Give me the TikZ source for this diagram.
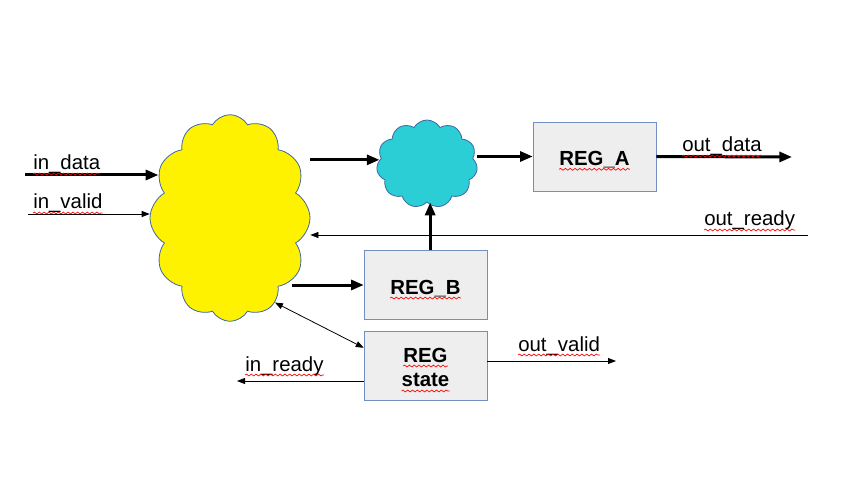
\documentclass[tikz,border=0pt]{standalone}
\usepackage{fontspec}
\setmainfont{Liberation Sans}
\usetikzlibrary{shapes.symbols,arrows.meta,decorations.pathmorphing}
\definecolor{cloudline}{RGB}{60,105,165}
\definecolor{boxline}{RGB}{114,143,196}
\definecolor{boxfill}{RGB}{238,238,238}
\definecolor{aqua}{RGB}{43,206,212}
\newcommand{\sig}{\fontsize{15.3}{18.75}\selectfont}
\tikzset{
  reg/.style={draw=boxline,fill=boxfill,minimum width=92.25pt,minimum height=51.75pt,inner sep=0pt},
  blob/.style={cloud,draw=cloudline,line width=0.6pt,cloud puffs=12,cloud puff arc=120,inner sep=0pt},
  bus/.style={line width=2.25pt,-{Triangle[length=9.5pt,width=7.5pt]}},
  wire/.style={line width=0.6pt,-{Triangle[length=6pt,width=4.5pt]}},
  dwire/.style={line width=0.6pt,{Triangle[length=6pt,width=4.5pt]}-{Triangle[length=6pt,width=4.5pt]}},
  squig/.style={draw=red,line width=0.5pt,decorate,decoration={snake,amplitude=0.7pt,segment length=3.6pt}},
  spell/.style={append after command={([yshift=-3pt]\tikzlastnode.base west)
    edge[squig] ([yshift=-3pt]\tikzlastnode.base east)}},
  sig/.style={font=\sig,anchor=base west,inner sep=0pt,spell},
  regtext/.style={font=\sig\bfseries,anchor=base,inner sep=0pt,spell}
}

\begin{document}
\begin{tikzpicture}[x=0.75pt,y=-0.75pt]
   \useasboundingbox (0,0) rectangle (848,491);
   \node[blob,fill=yellow,minimum width=120pt,minimum height=155pt] (ctl) at (230,218) {};
   \node[blob,fill=aqua,cloud puffs=11,minimum width=75.75pt,minimum height=66pt] (mux) at (427,164) {};
   \node[reg] (rega) at (594.5,156.5) {};
   \node[reg] (regb) at (425.5,285) {};
   \node[reg] (regs) at (425.5,365.5) {};
   \node[regtext] (rega-t) at ([yshift=-6.6pt]rega.center) {REG\_A};
   \node[regtext] (regb-t) at ([yshift=-6.8pt]regb.center) {REG\_B};
   \node[regtext] (regs-t1) at ([yshift=2.6pt]regs.center) {REG};
   \node[regtext] (regs-t2) at ([yshift=-16.1pt]regs.center) {state};
   \coordinate (indata) at (25,175);
   \coordinate (invalid) at (28,214);
   \coordinate (outdata) at (792,157);
   \coordinate (outrdy) at (808,235);
   \coordinate (inrdy) at (237,381);
   \coordinate (outvld) at (616,361);
   \draw[bus] (indata) -- (indata -| ctl.150);
   \draw[wire] (invalid) -- (invalid -| ctl.178);
   \draw[bus] (ctl.east |- mux.175) -- (mux.175);
   \draw[bus] (mux.east |- rega.west) -- (rega.west);
   \draw[bus] (rega.east) -- (outdata);
   \draw[wire] (outrdy) -- (outrdy -| ctl.east);
   \draw[bus] ([xshift=3.5pt]regb.north) -- ([xshift=3.5pt]regb.north |- mux.south);
   \draw[bus] (ctl.-45 |- regb.west) -- (regb.west);
   \draw[dwire] (ctl.-62) -- (regs.164);
   \draw[wire] (regs.west |- inrdy) -- (inrdy);
   \draw[wire] (regs.east |- outvld) -- (outvld);
   \node[sig] (lindata) at (33,170) {in\_data};
   \node[sig] (linvalid) at (33,209) {in\_valid};
   \node[sig] (loutdata) at (682,152) {out\_data};
   \node[sig] (loutrdy) at (704,226) {out\_ready};
   \node[sig] (loutvld) at (518,351) {out\_valid};
   \node[sig] (linrdy) at (245,371) {in\_ready};
\end{tikzpicture}
\end{document}
